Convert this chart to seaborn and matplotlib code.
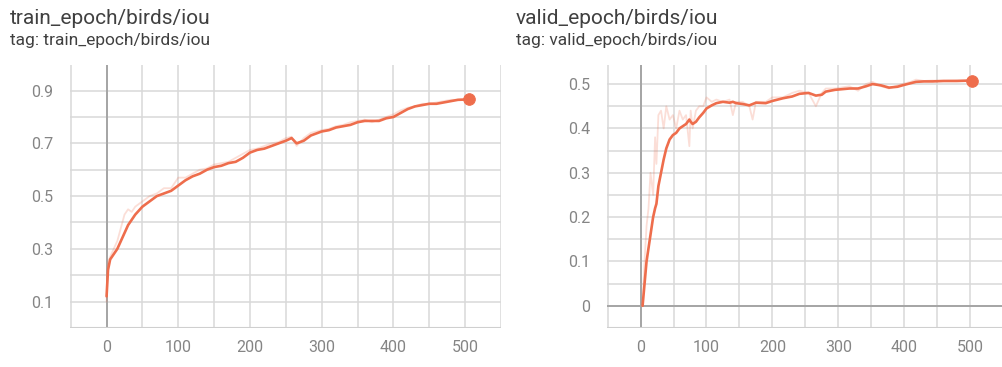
import matplotlib
matplotlib.use("Agg")
import matplotlib.pyplot as plt
import seaborn as sns
import pandas as pd
import numpy as np
from matplotlib.ticker import MultipleLocator

# ---- data ----
train_x = [0, 2, 5, 10, 15, 20, 25, 30, 35, 40, 45, 50, 60, 70, 80, 90, 100, 110, 120, 130,
           140, 150, 160, 170, 180, 190, 200, 210, 220, 230, 240, 250, 258, 265, 275, 285,
           300, 310, 320, 330, 340, 350, 360, 370, 380, 390, 400, 410, 420, 430, 440, 450,
           460, 470, 480, 490, 500, 505]
train_smooth = [0.12, 0.22, 0.26, 0.28, 0.30, 0.33, 0.36, 0.39, 0.41, 0.43, 0.445, 0.46, 0.48,
                0.50, 0.51, 0.52, 0.54, 0.56, 0.575, 0.585, 0.60, 0.61, 0.615, 0.625, 0.63,
                0.645, 0.665, 0.675, 0.68, 0.69, 0.70, 0.71, 0.72, 0.70, 0.71, 0.73, 0.745,
                0.75, 0.76, 0.765, 0.77, 0.78, 0.785, 0.785, 0.785, 0.795, 0.80, 0.815, 0.83,
                0.84, 0.845, 0.85, 0.85, 0.855, 0.86, 0.865, 0.866, 0.867]
train_raw = [0.10, 0.25, 0.27, 0.30, 0.33, 0.38, 0.43, 0.45, 0.44, 0.46, 0.47, 0.48, 0.50,
             0.51, 0.53, 0.53, 0.57, 0.57, 0.585, 0.60, 0.605, 0.62, 0.625, 0.63, 0.645,
             0.66, 0.675, 0.68, 0.69, 0.70, 0.705, 0.72, 0.725, 0.69, 0.72, 0.74, 0.75,
             0.755, 0.765, 0.77, 0.78, 0.785, 0.79, 0.78, 0.79, 0.80, 0.81, 0.825, 0.835,
             0.84, 0.85, 0.85, 0.855, 0.86, 0.865, 0.865, 0.867, 0.867]

valid_x = [3, 6, 9, 12, 15, 19, 22, 24, 27, 31, 35, 39, 44, 49, 54, 59, 64, 69, 74, 76, 79,
           84, 89, 95, 100, 108, 115, 125, 135, 140, 145, 155, 165, 170, 175, 190, 200, 216,
           230, 241, 255, 266, 275, 281, 295, 317, 330, 342, 352, 365, 377, 390, 397, 410,
           418, 430, 443, 460, 480, 503]
valid_smooth = [0.0, 0.05, 0.10, 0.13, 0.16, 0.20, 0.22, 0.23, 0.27, 0.30, 0.33, 0.355, 0.375,
                0.385, 0.39, 0.40, 0.405, 0.41, 0.42, 0.415, 0.41, 0.415, 0.425, 0.435, 0.445,
                0.452, 0.457, 0.46, 0.458, 0.46, 0.457, 0.455, 0.452, 0.455, 0.458, 0.457,
                0.462, 0.468, 0.472, 0.478, 0.48, 0.474, 0.476, 0.483, 0.487, 0.49, 0.49,
                0.495, 0.50, 0.497, 0.492, 0.494, 0.497, 0.502, 0.505, 0.506, 0.506, 0.507,
                0.507, 0.508]
valid_raw = [0.0, 0.10, 0.18, 0.22, 0.30, 0.25, 0.38, 0.32, 0.43, 0.44, 0.40, 0.45, 0.42,
             0.43, 0.40, 0.44, 0.42, 0.43, 0.36, 0.44, 0.40, 0.44, 0.45, 0.45, 0.47, 0.46,
             0.465, 0.46, 0.465, 0.43, 0.46, 0.46, 0.45, 0.42, 0.46, 0.46, 0.47, 0.47, 0.48,
             0.485, 0.48, 0.45, 0.48, 0.49, 0.49, 0.495, 0.485, 0.50, 0.505, 0.495, 0.49,
             0.497, 0.50, 0.505, 0.51, 0.507, 0.508, 0.507, 0.508, 0.508]

titles = ["train_epoch/birds/iou", "valid_epoch/birds/iou"]
x_ticks = [0, 100, 200, 300, 400, 500]
train_y_ticks = [0.1, 0.3, 0.5, 0.7, 0.9]
valid_y_ticks = [0, 0.1, 0.2, 0.3, 0.4, 0.5]

# ---- style ----
sns.set_theme(style="white")
plt.rcParams['font.family'] = ['Roboto', 'DejaVu Sans']

W, H = 1003, 367
fig = plt.figure(figsize=(W / 100, H / 100), dpi=100)
fig.patch.set_facecolor("white")

LINE = "#ee6d4c"
GRID = "#d8d8d8"
AXIS = "#a5a5a5"
TICKC = "#858585"
TITLEC = "#404040"


def px_rect(l, r, t, b):
    return [l / W, (H - b) / H, (r - l) / W, (b - t) / H]


panels = [
    dict(rect=px_rect(70, 501, 65, 328), xs=train_x, sm=train_smooth, raw=train_raw,
         ylim=(0.0, 0.997), yticks=train_y_ticks, ygrid=0.1, yfmt=lambda v: f"{v:.1f}",
         title=titles[0], tx=10, zero_h=False),
    dict(rect=px_rect(607, 1003, 65, 328), xs=valid_x, sm=valid_smooth, raw=valid_raw,
         ylim=(-0.05, 0.543), yticks=valid_y_ticks, ygrid=0.05,
         yfmt=lambda v: "0" if v == 0 else f"{v:.1f}",
         title=titles[1], tx=516, zero_h=True),
]

for p in panels:
    ax = fig.add_axes(p["rect"])
    ax.set_facecolor("white")
    df = pd.DataFrame({"step": p["xs"], "smooth": p["sm"], "raw": p["raw"]})
    sns.lineplot(data=df, x="step", y="raw", ax=ax, color=LINE, alpha=0.22, lw=1.3, zorder=3)
    sns.lineplot(data=df, x="step", y="smooth", ax=ax, color=LINE, lw=1.9, zorder=4)
    sns.scatterplot(data=df.iloc[[-1]], x="step", y="smooth", ax=ax, color=LINE, s=70,
                    edgecolor=LINE, zorder=5)
    ax.set_xlim(-51, 550)
    ax.set_ylim(*p["ylim"])
    ax.xaxis.set_major_locator(plt.FixedLocator(x_ticks))
    ax.xaxis.set_minor_locator(MultipleLocator(50))
    ax.yaxis.set_major_locator(plt.FixedLocator(p["yticks"]))
    ax.yaxis.set_minor_locator(MultipleLocator(p["ygrid"]))
    ax.set_yticklabels([p["yfmt"](v) for v in p["yticks"]])
    ax.grid(True, which="both", color=GRID, lw=1.1, zorder=0)
    ax.set_axisbelow(True)
    for s in ax.spines.values():
        s.set_visible(False)
    ax.axvline(0, color=AXIS, lw=1.4, zorder=1)
    if p["zero_h"]:
        ax.axhline(0, color=AXIS, lw=1.4, zorder=1)
    ax.axhline(p["ylim"][0], color="#cfcfcf", lw=1.5, zorder=1)
    ax.tick_params(axis="both", which="both", length=3, color=GRID, labelcolor=TICKC,
                   labelsize=11.5)
    ax.tick_params(axis="y", which="major", pad=9)
    ax.tick_params(axis="x", which="major", pad=6)
    ax.set_xlabel("")
    ax.set_ylabel("")
    fig.text(p["tx"] / W, 1 - 18 / H, p["title"], fontsize=15, color=TITLEC,
             ha="left", va="center")
    fig.text(p["tx"] / W, 1 - 40 / H, "tag: " + p["title"], fontsize=12.5, color=TITLEC,
             ha="left", va="center")

fig.savefig("out.png", dpi=100, facecolor="white")
